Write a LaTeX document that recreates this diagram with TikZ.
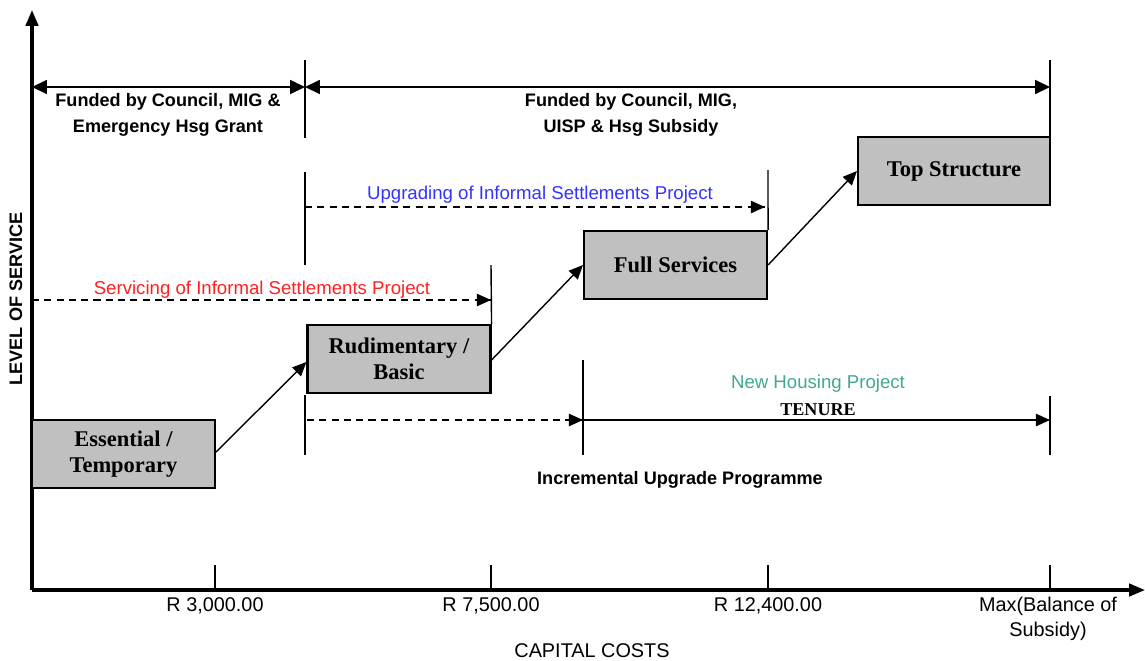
\documentclass[tikz,border=0pt]{standalone}
\usepackage{fontspec}
\setmainfont{Liberation Serif}
\setsansfont{Liberation Sans}
\usetikzlibrary{arrows.meta}
\definecolor{boxgray}{HTML}{C0C0C0}
\definecolor{upgblue}{HTML}{3333FF}
\definecolor{servred}{HTML}{FF2020}
\definecolor{housegreen}{HTML}{40A890}
\newlength{\px}\setlength{\px}{0.02cm}
\tikzset{
  axisline/.style={line width=1.8pt,-{Triangle[length=9pt,width=7pt]}},
  spanline/.style={line width=0.8pt,{Triangle[length=8.5pt,width=8pt]}-{Triangle[length=8.5pt,width=8pt]}},
  fwd/.style={line width=0.8pt,-{Triangle[length=8pt,width=7pt]}},
  dashline/.style={line width=0.8pt,dash pattern=on 4pt off 3pt},
  guide/.style={line width=0.8pt},
  stage/.style={draw,line width=1.2pt,fill=boxgray,minimum width=183\px,minimum height=68\px,
    font=\rmfamily\bfseries\fontsize{12.8}{15}\selectfont,align=center,inner sep=0pt},
  lbl/.style={font=\sffamily\fontsize{10.6}{14.5}\selectfont,align=center,inner sep=0pt},
  blbl/.style={font=\sffamily\bfseries\fontsize{10.3}{14.5}\selectfont,align=center,inner sep=0pt},
  ticklbl/.style={font=\sffamily\fontsize{11.3}{14}\selectfont,align=center,inner sep=0pt}
}
\begin{document}
\begin{tikzpicture}[x=0.02cm,y=-0.02cm]
\useasboundingbox (0,0) rectangle (1145,660);

% axes
\coordinate (o) at (32,590);
\coordinate (ytop) at (32,10);
\coordinate (xend) at (1145,590);
\draw[axisline] (o) -- (ytop);
\draw[axisline] (o) -- (xend);

% ticks and cost labels
\foreach \x/\t [count=\i] in {215/{R 3,000.00},491/{R 7,500.00},768/{R 12,400.00}}{
  \coordinate (tk\i) at (\x,565);
  \draw[guide] (tk\i) -- (\x,590);
  \node[ticklbl] (cost\i) at (\x,606) {\t};
}
\coordinate (tk4) at (1050,565);
\draw[guide] (tk4) -- (1050,590);
\node[ticklbl,anchor=north] (cost4) at (1048,597) {Max(Balance of\\Subsidy)};
\node[ticklbl] (xlabel) at (592,651) {CAPITAL COSTS};
\node[blbl,rotate=90] (ylabel) at (16,299) {LEVEL OF SERVICE};

% funding bands
\coordinate (fa) at (305,60);  \coordinate (fb) at (305,138);
\coordinate (fc) at (1050,60); \coordinate (fd) at (1050,136);
\draw[guide] (fa) -- (fb);
\draw[guide] (fc) -- (fd);
\coordinate (f0) at (32,87); \coordinate (f1) at (305,87); \coordinate (f2) at (1050,87);
\draw[spanline] (f0) -- (f1);
\draw[spanline] (f1) -- (f2);
\node[blbl] (fund1) at (168,115) {Funded by Council, MIG \&\\Emergency Hsg Grant};
\node[blbl] (fund2) at (631,115) {Funded by Council, MIG,\\UISP \& Hsg Subsidy};

% stages
\node[stage] (ess) at (123.5,454) {Essential /\\Temporary};
\node[stage] (rud) at (399,359) {Rudimentary /\\Basic};
\node[stage] (full) at (675.5,265) {Full Services};
\node[stage,minimum width=192\px] (top) at (954,171) {Top Structure};

\draw[fwd] ([yshift=2\px]ess.east) -- ([yshift=-3\px]rud.west);
\draw[fwd] ([yshift=-1\px]rud.east) -- (full.west);
\draw[fwd] (full.east) -- (top.west);

% upgrading of informal settlements
\coordinate (ua) at (305,172); \coordinate (ub) at (305,265);
\draw[guide] (ua) -- (ub);
\coordinate (uc) at (768,170);
\draw[guide] (uc) -- (full.north east);
\coordinate (u0) at (305,207); \coordinate (u1) at (765,207);
\draw[dashline] (u0) -- (u1);
\draw[fwd] ([xshift=-10\px]u1) -- (u1);
\node[lbl,text=upgblue] (upg) at (540,195) {Upgrading of Informal Settlements Project};

% servicing of informal settlements
\coordinate (sa) at (491,265);
\draw[guide] (sa) -- (rud.north east);
\coordinate (s0) at (32,300); \coordinate (s1) at (491,300);
\draw[dashline] (s0) -- (s1);
\draw[fwd] ([xshift=-10\px]s1) -- (s1);
\node[lbl,text=servred] (serv) at (262,290) {Servicing of Informal Settlements Project};

% tenure / new housing
\coordinate (ta) at (305,395); \coordinate (tb) at (305,455);
\draw[guide] (ta) -- (tb);
\coordinate (tc) at (583,360); \coordinate (td) at (583,455);
\draw[guide] (tc) -- (td);
\coordinate (te) at (1050,396); \coordinate (tf) at (1050,455);
\draw[guide] (te) -- (tf);
\coordinate (t0) at (307,420); \coordinate (t1) at (583,420); \coordinate (t2) at (1050,420);
\draw[dashline] (t0) -- (t1);
\draw[fwd] ([xshift=-10\px]t1) -- (t1);
\draw[fwd] (t1) -- (t2);
\node[lbl,text=housegreen] (nhp) at (818,384) {New Housing Project};
\node[font=\rmfamily\bfseries\fontsize{10.3}{12}\selectfont,inner sep=0pt] (ten) at (818,410) {TENURE};
\node[blbl] (iup) at (680,480) {Incremental Upgrade Programme};
\end{tikzpicture}
\end{document}
